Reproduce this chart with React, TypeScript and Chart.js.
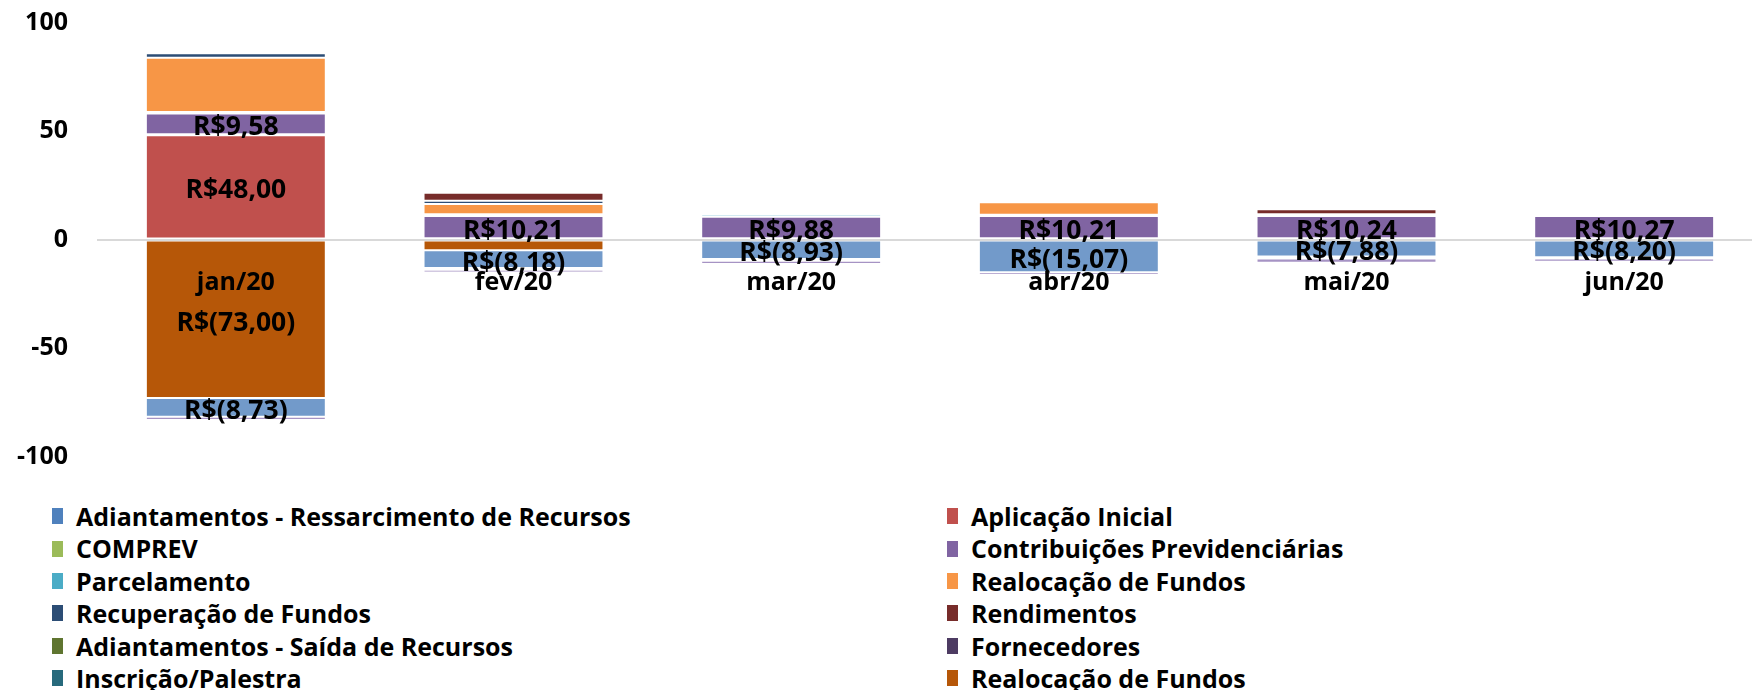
import React, { useEffect, useRef } from "react";
import { Chart, registerables } from "chart.js";

Chart.register(...registerables);

// ---------- data ----------
const categories = ["jan/20", "fev/20", "mar/20", "abr/20", "mai/20", "jun/20"];
const yTickValues = [-100, -50, 0, 50, 100];

const adiantamentosRessarcimento = [-8.73, -8.18, -8.93, -15.07, -7.88, -8.2];
const aplicacaoInicial = [48, 0, 0, 0, 0, 0];
const comprev = [0.5, 0.6, 0.6, 0.6, 0.6, 0.6];
const contribuicoes = [9.58, 10.21, 9.88, 10.21, 10.24, 10.27];
const parcelamento = [0.7, 0.8, 1.0, 0.6, 0.8, 0.9];
const realocacaoEntrada = [25.0, 4.8, 0, 5.7, 0, 0];
const recuperacao = [2.0, 1.5, 0, 0, 0, 0];
const rendimentos = [0, 3.6, 0, 0, 2.3, 0];
const adiantamentosSaida = [0, -0.8, -0.9, 0, -0.9, -0.6];
const fornecedores = [-1.4, -1.2, -1.5, -1.3, -1.9, -1.4];
const inscricao = [0, 0, 0, 0, 0, 0];
const realocacaoSaida = [-73.0, -5.0, 0, 0, 0, 0];

// legend (row-major, 2 columns) – names and legend swatch colours
const legendNames = [
  "Adiantamentos - Ressarcimento de Recursos",
  "Aplicação Inicial",
  "COMPREV",
  "Contribuições Previdenciárias",
  "Parcelamento",
  "Realocação de Fundos",
  "Recuperação de Fundos",
  "Rendimentos",
  "Adiantamentos - Saída de Recursos",
  "Fornecedores",
  "Inscrição/Palestra",
  "Realocação de Fundos",
];
const legendColors = [
  "#4f81bd", "#c0504d", "#9bbb59", "#8064a2", "#4bacc6", "#f79646",
  "#2c4d75", "#772c2a", "#5f7530", "#4d3b62", "#276a7c", "#b65708",
];

const FONT = "'Open Sans', 'Noto Sans', 'DejaVu Sans', sans-serif";

type SeriesDef = { key: string; label: string; data: number[]; color: string; labels: boolean };

// stacking order (negatives stack downward in this order, positives upward)
const series: SeriesDef[] = [
  { key: "realocSaida", label: legendNames[11], data: realocacaoSaida, color: "#b65708", labels: true },
  { key: "adiantRess", label: legendNames[0], data: adiantamentosRessarcimento, color: "#729aca", labels: true },
  { key: "adiantSaida", label: legendNames[8], data: adiantamentosSaida, color: "#bccf8a", labels: false },
  { key: "fornec", label: legendNames[9], data: fornecedores, color: "#a693c4", labels: false },
  { key: "inscr", label: legendNames[10], data: inscricao, color: "#276a7c", labels: false },
  { key: "aplic", label: legendNames[1], data: aplicacaoInicial, color: "#c0504d", labels: true },
  { key: "comprev", label: legendNames[2], data: comprev, color: "#9bbb59", labels: false },
  { key: "contrib", label: legendNames[3], data: contribuicoes, color: "#8064a2", labels: true },
  { key: "parcel", label: legendNames[4], data: parcelamento, color: "#4bacc6", labels: false },
  { key: "realocEnt", label: legendNames[5], data: realocacaoEntrada, color: "#f79646", labels: false },
  { key: "recup", label: legendNames[6], data: recuperacao, color: "#2c4d75", labels: false },
  { key: "rend", label: legendNames[7], data: rendimentos, color: "#772c2a", labels: false },
];

const MIN_LABEL = 6;

function fmt(v: number): string {
  const s = Math.abs(v).toFixed(2).replace(".", ",");
  return v < 0 ? `R$(${s})` : `R$${s}`;
}

const segLabels = {
  id: "segLabels",
  afterDraw(chart: any) {
    const ctx = chart.ctx;
    ctx.save();
    ctx.font = `bold 26.5px ${FONT}`;
    ctx.fillStyle = "#000";
    ctx.textAlign = "center";
    ctx.textBaseline = "middle";
    chart.data.datasets.forEach((ds: any, di: number) => {
      if (!series[di].labels) return;
      const meta = chart.getDatasetMeta(di);
      meta.data.forEach((el: any, i: number) => {
        const v = ds.data[i];
        if (Math.abs(v) < MIN_LABEL) return;
        const p = el.getCenterPoint();
        ctx.fillText(fmt(v), p.x, p.y + 4);
      });
    });
    ctx.restore();
  },
};

export default function App() {
  const ref = useRef<HTMLCanvasElement>(null);

  useEffect(() => {
    const chart = new Chart(ref.current as HTMLCanvasElement, {
      type: "bar",
      data: {
        labels: categories,
        datasets: series.map((s) => ({
          label: s.label,
          data: s.data,
          backgroundColor: s.color,
          borderColor: "rgba(255,255,255,0.45)",
          borderWidth: 1,
          borderSkipped: false,
          categoryPercentage: 1,
          barPercentage: 0.648,
        })),
      },
      options: {
        animation: false,
        responsive: false,
        devicePixelRatio: 1,
        events: [],
        layout: { padding: { top: 22.5, bottom: 23.5, left: 0, right: 0 } },
        plugins: {
          legend: { display: false },
          tooltip: { enabled: false },
        },
        scales: {
          x: {
            type: "category",
            stacked: true,
            position: { y: 0 } as any,
            grid: { display: false, drawTicks: false },
            border: { display: false },
            ticks: {
              z: 2,
              color: "#000",
              font: { family: FONT, size: 25, weight: "bold" },
              padding: 28,
              maxRotation: 0,
              autoSkip: false,
            },
          },
          y: {
            stacked: true,
            min: -100,
            max: 100,
            afterFit: (scale: any) => {
              scale.width = 97;
              scale.paddingTop = 0;
              scale.paddingBottom = 0;
            },
            afterBuildTicks: (scale: any) => {
              scale.ticks = yTickValues.map((v) => ({ value: v }));
            },
            grid: {
              z: 1,
              drawTicks: false,
              color: (c: any) => (c.tick && c.tick.value === 0 ? "#d9d9d9" : "rgba(0,0,0,0)"),
              lineWidth: 2,
            },
            border: { display: false },
            ticks: {
              color: "#000",
              font: { family: FONT, size: 25, weight: "bold" },
              padding: 29,
            },
          },
        },
      },
      plugins: [segLabels],
    });
    return () => chart.destroy();
  }, []);

  return (
    <div
      style={{
        position: "fixed",
        left: 0,
        top: 0,
        width: 1752,
        height: 690,
        overflow: "hidden",
        background: "#fff",
      }}
    >
      <canvas
        ref={ref}
        width={1763}
        height={480}
        style={{ position: "absolute", left: 0, top: 0, width: 1763, height: 480 }}
      />
      <div
        style={{
          position: "absolute",
          left: 52,
          top: 500,
          display: "grid",
          gridTemplateColumns: "895px auto",
          gridAutoRows: "32.4px",
          fontFamily: FONT,
          fontWeight: 700,
          fontSize: 25,
          color: "#000",
        }}
      >
        {legendNames.map((name, i) => (
          <div key={i} style={{ display: "flex", alignItems: "center", whiteSpace: "nowrap" }}>
            <span
              style={{
                display: "inline-block",
                width: 11,
                height: 16,
                background: legendColors[i],
                marginRight: 13,
                flex: "none",
              }}
            />
            <span style={{ lineHeight: "32.4px" }}>{name}</span>
          </div>
        ))}
      </div>
    </div>
  );
}
